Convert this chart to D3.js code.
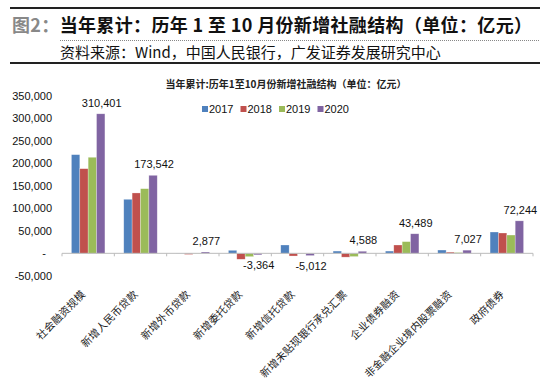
<!DOCTYPE html>
<html>
<head>
<meta charset="utf-8">
<script src="https://cdn.jsdelivr.net/npm/d3@7"></script>
<style>
  body { margin: 0; background: #fff; }
  svg { display: block; font-family: Arial, "Liberation Sans", "Noto Sans CJK SC", sans-serif; }
</style>
</head>
<body>
<svg id="chart"></svg>
<script>
// categories and yearly values (亿元)
const categories = ["社会融资规模", "新增人民币贷款", "新增外币贷款", "新增委托贷款", "新增信托贷款",
  "新增未贴现银行承兑汇票", "企业债券融资", "非金融企业境内股票融资", "政府债券"];
const years = ["2017", "2018", "2019", "2020"];
const v2017 = [219500, 120200, 300, 6700, 18500, 5000, 5000, 7300, 47400];
const v2018 = [188300, 134300, -2500, -13200, -6000, -8500, 18500, 2600, 45200];
const v2019 = [213700, 143800, -400, -7400, -1000, -7200, 26000, 1800, 40700];
const v2020 = [310401, 173542, 2877, -3364, -5012, 4588, 43489, 7027, 72244];
const yTicks = [-50000, 0, 50000, 100000, 150000, 200000, 250000, 300000, 350000];

const series = [v2017, v2018, v2019, v2020];
const colors = ["#4F81BD", "#C0504D", "#9BBB59", "#8064A2"];

const width = 550, height = 385;
const svg = d3.select("#chart").attr("width", width).attr("height", height);

// plain hyphen instead of d3's unicode minus
const fmt = d => d3.format(",")(d).replace("\u2212", "-");

// header block
svg.append("rect").attr("x", 10).attr("y", 7).attr("width", 530).attr("height", 2).attr("fill", "#222");
svg.append("rect").attr("x", 10).attr("y", 62).attr("width", 530).attr("height", 2).attr("fill", "#222");
svg.append("line")
  .attr("x1", 60).attr("x2", 540).attr("y1", 40.5).attr("y2", 40.5)
  .attr("stroke", "#888").attr("stroke-width", 1).attr("stroke-dasharray", "1,1");

const title = svg.append("text")
  .attr("x", 12).attr("y", 32)
  .attr("textLength", 520).attr("lengthAdjust", "spacing")
  .style("font-family", "'Noto Sans CJK SC', sans-serif")
  .style("font-size", "18px").style("font-weight", "bold");
title.append("tspan").attr("fill", "#888").text("图2：");
title.append("tspan").attr("fill", "#111").text("当年累计：历年 1 至 10 月份新增社融结构（单位：亿元）");

svg.append("text")
  .attr("x", 60).attr("y", 58)
  .style("font-family", "'Noto Sans CJK SC', sans-serif")
  .style("font-size", "15px").attr("fill", "#111")
  .text("资料来源：Wind，中国人民银行，广发证券发展研究中心");

// inner chart title
svg.append("text")
  .attr("x", 286).attr("y", 88).attr("text-anchor", "middle")
  .style("font-family", "'Noto Sans CJK SC', sans-serif")
  .style("font-size", "10px").style("font-weight", "bold").attr("fill", "#222")
  .text("当年累计:历年1至10月份新增社融结构（单位：亿元）");

// scales
const x0 = d3.scaleBand().domain(categories).range([62, 533]).paddingInner(0.36).paddingOuter(0.18);
const x1 = d3.scaleBand().domain(years).range([0, x0.bandwidth()]);
const y = d3.scaleLinear().domain([-50000, 350000]).range([275.8, 96]);

// y tick labels (accounting style, zero shown as "-")
svg.append("g").selectAll("text")
  .data(yTicks).join("text")
  .attr("x", d => d === 0 ? 46 : 52)
  .attr("y", d => y(d) + 4)
  .attr("text-anchor", "end")
  .style("font-size", "11px").attr("fill", "#111")
  .text(d => d === 0 ? "-" : fmt(d));

// bars
const groups = svg.append("g").selectAll("g")
  .data(categories).join("g")
  .attr("transform", d => `translate(${x0(d)},0)`);

groups.selectAll("rect")
  .data((c, i) => years.map((yr, k) => ({ yr, k, v: series[k][i] })))
  .join("rect")
  .attr("x", d => x1(d.yr))
  .attr("width", x1.bandwidth())
  .attr("y", d => y(Math.max(0, d.v)))
  .attr("height", d => Math.abs(y(d.v) - y(0)))
  .attr("fill", d => colors[d.k])
  .attr("stroke", "rgba(255,255,255,0.45)")
  .attr("stroke-width", 0.6);

// 2020 value labels
groups.append("text")
  .datum((c, i) => v2020[i])
  .attr("x", x1("2020") + x1.bandwidth() / 2 + 1)
  .attr("y", d => d >= 0 ? y(d) - 7 : y(d) + 14)
  .attr("text-anchor", "middle")
  .style("font-size", "11px").attr("fill", "#111")
  .text(d => fmt(d));

// category axis
const xAxis = svg.append("g");
xAxis.append("line")
  .attr("x1", 62).attr("x2", 533).attr("y1", y(0)).attr("y2", y(0))
  .attr("stroke", "#bbb").attr("stroke-width", 1);
xAxis.selectAll("line.tick")
  .data(d3.range(categories.length + 1)).join("line")
  .attr("class", "tick")
  .attr("x1", i => 62 + i * x0.step()).attr("x2", i => 62 + i * x0.step())
  .attr("y1", y(0)).attr("y2", y(0) + 3)
  .attr("stroke", "#bbb");

xAxis.selectAll("text")
  .data(categories).join("text")
  .attr("transform", d => `translate(${x0(d) + x0.bandwidth() / 2 - 2},${295}) rotate(-45)`)
  .attr("text-anchor", "end")
  .style("font-family", "'Noto Sans CJK SC', sans-serif")
  .style("font-size", "10.5px").style("letter-spacing", "0.2px").attr("fill", "#222")
  .text(d => d);

// legend
const legend = svg.append("g").selectAll("g")
  .data(years).join("g")
  .attr("transform", (d, i) => `translate(${202 + i * 38.5},109)`);
legend.append("rect")
  .attr("x", 0).attr("y", -3).attr("width", 6).attr("height", 6)
  .attr("fill", (d, i) => colors[i]);
legend.append("text")
  .attr("x", 7).attr("y", 4)
  .style("font-size", "11px").attr("fill", "#111")
  .text(d => d);
</script>
</body>
</html>
